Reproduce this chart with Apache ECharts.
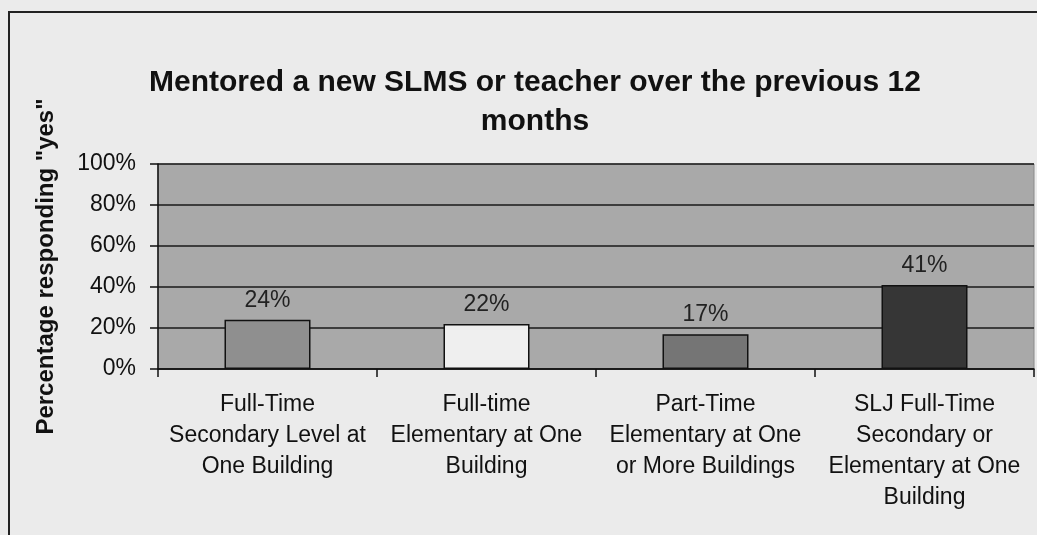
<!DOCTYPE html>
<html><head><meta charset="utf-8">
<script src="https://cdn.jsdelivr.net/npm/echarts@6/dist/echarts.min.js"></script>
<style>html,body{margin:0;padding:0;background:#ebebeb;}#c{width:1037px;height:535px;}</style>
</head><body><div id="c"></div>
<script>
const categories = [
  "Full-Time\nSecondary Level at\nOne Building",
  "Full-time\nElementary at One\nBuilding",
  "Part-Time\nElementary at One\nor More Buildings",
  "SLJ Full-Time\nSecondary or\nElementary at One\nBuilding"
];
const values = [24, 22, 17, 41];
const barColors = ["#8f8f8f", "#efefef", "#757575", "#363636"];
const yTicks = [0, 20, 40, 60, 80, 100];
const titleText = "Mentored a new SLMS or teacher over the previous 12\nmonths";
const yName = "Percentage responding \"yes\"";

const FF = '"Liberation Sans", Arial, sans-serif';
const chart = echarts.init(document.getElementById('c'));
chart.setOption({
  backgroundColor: '#ebebeb',
  animation: false,
  title: {
    text: titleText, left: 530, top: 58, textAlign: 'center',
    textStyle: { fontFamily: FF, fontSize: 30, fontWeight: 'bold', color: '#111', lineHeight: 39 }
  },
  graphic: [{
    type: 'rect', shape: { x: 9, y: 12, width: 1100, height: 600 },
    style: { fill: 'none', stroke: '#222', lineWidth: 2 }, silent: true
  }],
  grid: { left: 158, right: 3, top: 164, bottom: 166, show: true,
          backgroundColor: '#a9a9a9', borderColor: '#8a8a8a', borderWidth: 1 },
  xAxis: {
    type: 'category', data: categories,
    axisLine: { lineStyle: { color: '#111', width: 1.5 } },
    axisTick: { show: true, length: 8, lineStyle: { color: '#111', width: 1.5 } },
    axisLabel: { interval: 0, margin: 20, fontFamily: FF, fontSize: 23, color: '#111', lineHeight: 31 }
  },
  yAxis: {
    type: 'value', min: 0, max: 100, interval: 20,
    name: yName, nameLocation: 'middle', nameGap: 100,
    nameTextStyle: { fontFamily: FF, fontSize: 24, fontWeight: 'bold', color: '#111' },
    axisLine: { show: true, lineStyle: { color: '#111', width: 1.5 } },
    axisTick: { show: true, length: 8, lineStyle: { color: '#111', width: 1.5 } },
    splitLine: { show: true, lineStyle: { color: '#1a1a1a', width: 1.5 } },
    axisLabel: { margin: 22, fontFamily: FF, fontSize: 23, color: '#111',
      customValues: yTicks, formatter: v => v + '%' }
  },
  series: [{
    type: 'bar', barWidth: 86,
    data: values.map((v, i) => ({ value: v, itemStyle: { color: barColors[i] } })),
    itemStyle: { borderColor: '#111', borderWidth: 1.5 },
    label: { show: true, position: 'top', distance: 8, formatter: '{c}%',
      fontFamily: FF, fontSize: 23, color: '#222' }
  }]
});
</script></body></html>
